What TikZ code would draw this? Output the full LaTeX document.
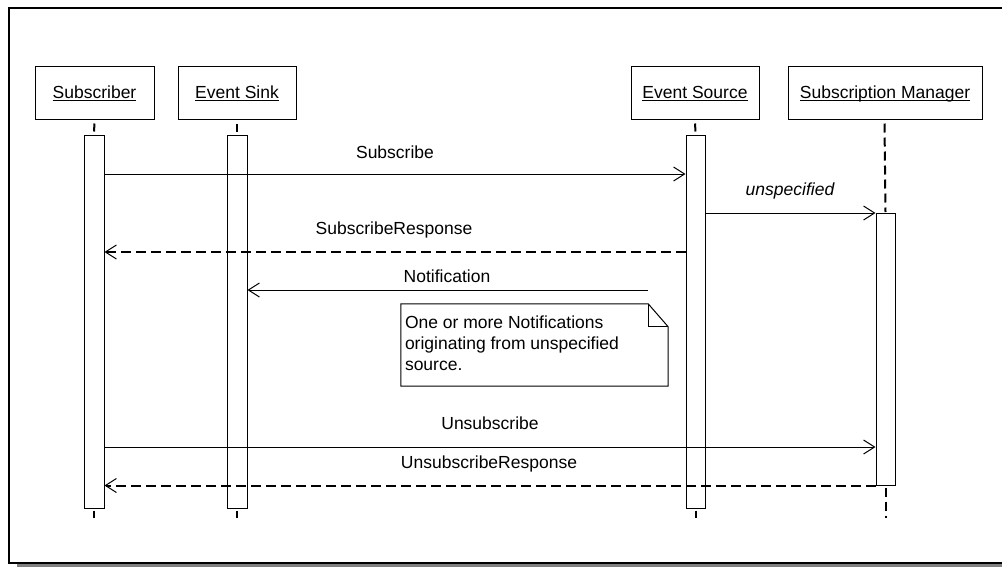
\documentclass[tikz,border=0pt]{standalone}
\usepackage{fontspec}
\setmainfont{Liberation Sans}
\usetikzlibrary{arrows.meta,calc}
\newcommand\myul[1]{\setbox0\hbox{#1}\rlap{\rule[-2.5pt]{\wd0}{1pt}}\box0}
\begin{document}
\begin{tikzpicture}[x=1pt,y=-1pt,
  font=\fontsize{17.5}{21}\selectfont,
  head/.style={draw,line width=1pt,inner sep=0pt,minimum height=53pt,text height=13pt,text depth=2pt},
  act/.style={draw,fill=white,line width=1pt,inner sep=0pt},
  lifestub/.style={line width=2pt},
  lifedash/.style={line width=2pt,dash pattern=on 9pt off 5pt},
  tip/.style={-{Straight Barb[length=11pt,width=14pt,line width=1pt]}},
  call/.style={line width=1pt,tip},
  reply/.style={line width=2pt,dash pattern=on 10pt off 5pt,tip},
  lbl/.style={anchor=base,inner sep=0pt},
  frame/.style={line width=2pt},
  notebox/.style={inner sep=0pt,minimum width=267pt,minimum height=82pt},
  notetext/.style={anchor=north west,inner sep=0pt,align=left}
]
\useasboundingbox (0,0) rectangle (1002,566);
\clip (0,0) rectangle (1002,566);
% frame with shadow
\fill[gray!100!white,fill=black!50] (17,563.8) rectangle (1010,567);
\draw[frame] (9,7.8) rectangle (1012,562.8);

% heads
\node[head,minimum width=119pt] (hSub) at (94.5,92.5) {\myul{Subscriber}};
\node[head,minimum width=118pt] (hSink) at (237,92.5) {\myul{Event Sink}};
\node[head,minimum width=128pt] (hSrc) at (695,92.5) {\myul{Event Source}};
\node[head,minimum width=194pt] (hMgr) at (885,92.5) {\myul{Subscription Manager}};

% activations
\node[act,minimum width=20pt,minimum height=373pt] (aSub) at (94,321.5) {};
\node[act,minimum width=20pt,minimum height=373pt] (aSink) at (237,321.5) {};
\node[act,minimum width=19pt,minimum height=373pt] (aSrc) at (695.5,321.5) {};
\node[act,minimum width=19pt,minimum height=272pt] (aMgr) at (885.5,349) {};

% lifelines
\draw[lifestub] ($(hSub.south)+(0,4)$) -- ($(aSub.north)+(0,-3)$);
\draw[lifestub] ($(hSink.south)+(0,4)$) -- ($(aSink.north)+(0,-3)$);
\draw[lifestub] ($(hSrc.south)+(0,4)$) -- ($(aSrc.north)+(0,-3)$);
\draw[lifedash] ($(hMgr.south)+(-0.5,4)$) -- ($(aMgr.north)+(0,-0.5)$);
\draw[lifestub] ($(aSub.south)+(0,2)$) -- ++(0,7);
\draw[lifestub] ($(aSink.south)+(0,2)$) -- ++(0,7);
\draw[lifestub] ($(aSrc.south)+(0,2)$) -- ++(0,7);
\draw[lifedash] ($(aMgr.south)+(0,2)$) -- ++(0,30);

% messages
\draw[call] (aSub.east |- 0,174) -- (aSrc.west |- 0,174);
\node[lbl] (lSubscribe) at (395,158) {Subscribe};

\draw[call] (aSrc.east |- 0,213) -- (aMgr.west |- 0,213);
\node[lbl,font=\fontsize{17.5}{21}\selectfont\itshape] (lUnspec) at (790,195) {unspecified};

\draw[reply] (aSrc.west |- 0,252) -- (aSub.east |- 0,252);
\node[lbl] (lSubResp) at (394,234) {SubscribeResponse};

\coordinate (nStart) at (648,290);
\draw[call] (nStart) -- (aSink.east |- nStart);
\node[lbl] (lNotif) at (447,282) {Notification};

\draw[call] (aSub.east |- 0,447) -- (aMgr.west |- 0,447);
\node[lbl] (lUnsub) at (490,429) {Unsubscribe};

\draw[reply] (aMgr.south west) -- (aSub.east |- aMgr.south west);
\node[lbl] (lUnsubResp) at (489,468) {UnsubscribeResponse};

% note
\node[notebox] (note) at (534.5,345) {};
\draw[line width=1pt] (note.north west) -- ($(note.north east)+(-20,0)$) -- ($(note.north east)+(0,23)$) -- (note.south east) -- (note.south west) -- cycle;
\draw[line width=1pt] ($(note.north east)+(-20,0)$) -- ($(note.north east)+(-20,23)$) -- ($(note.north east)+(0,23)$);
\node[notetext] (noteText) at ($(note.north west)+(4,12)$) {One or more Notifications\\originating from unspecified\\source.};
\end{tikzpicture}
\end{document}
